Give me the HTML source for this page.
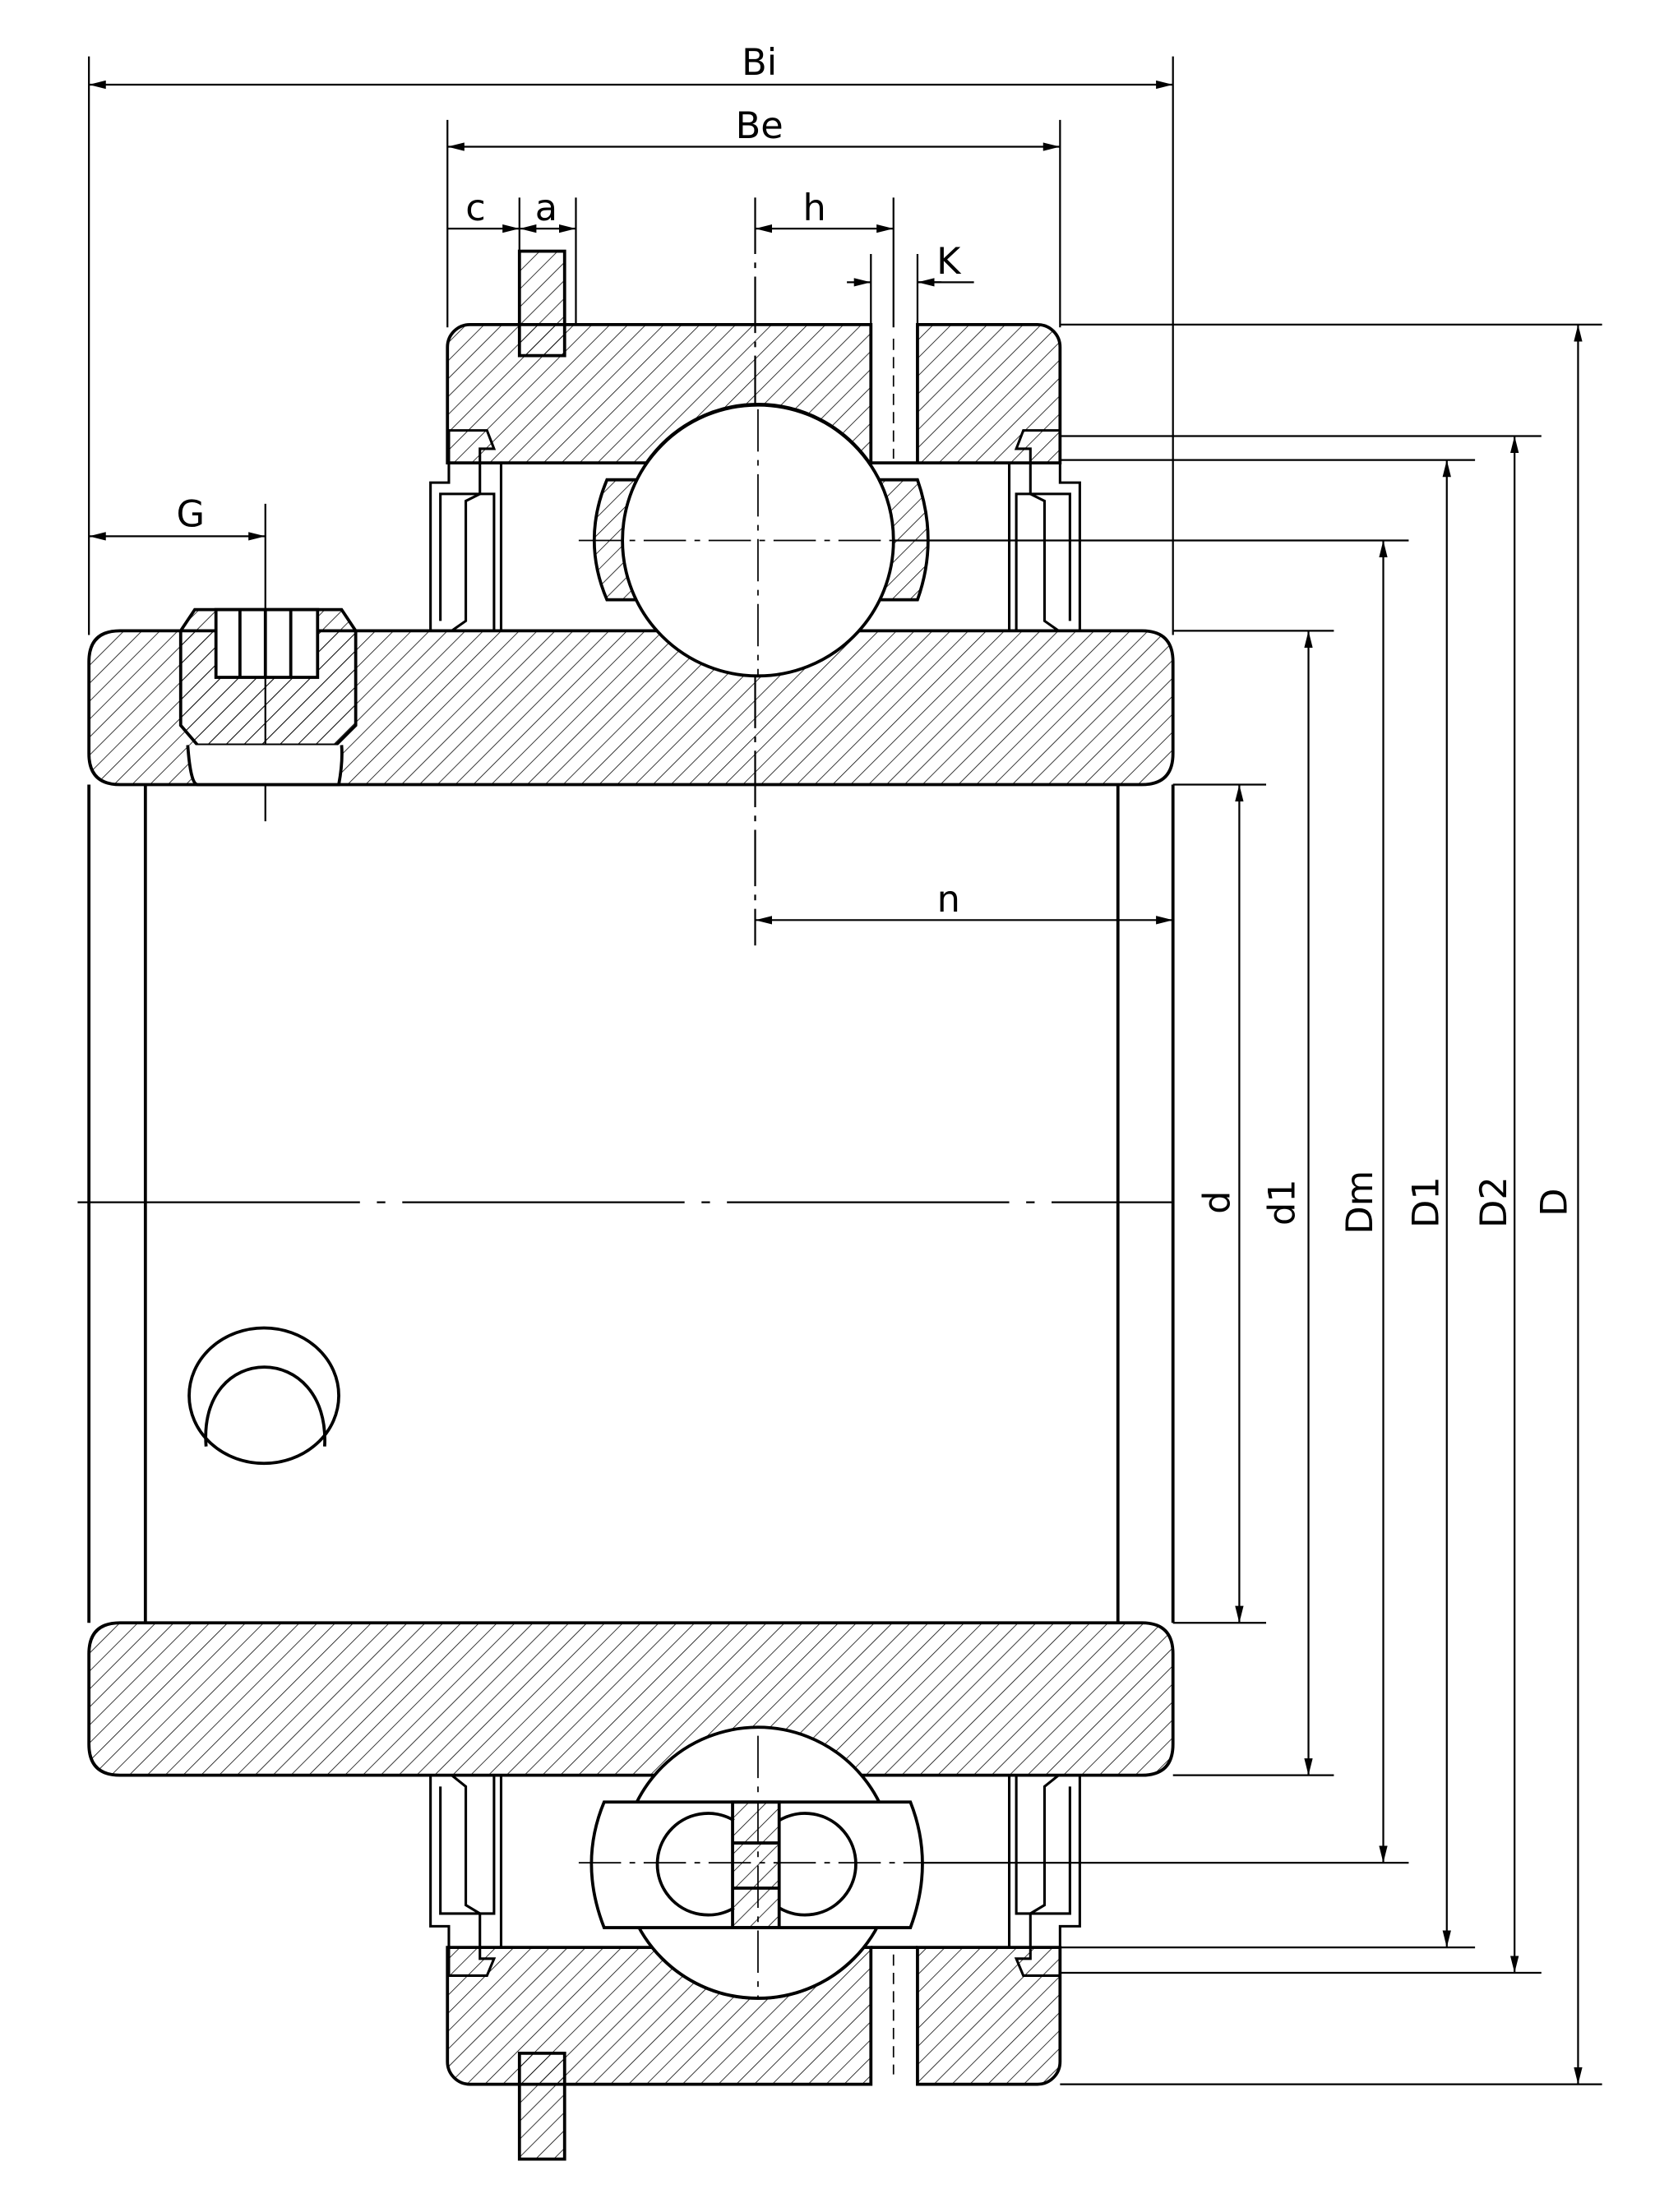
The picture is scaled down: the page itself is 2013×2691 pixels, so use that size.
<!DOCTYPE html>
<html><head><meta charset="utf-8"><style>
html,body{margin:0;padding:0;background:#fff}
svg{display:block}
text{font-family:"DejaVu Sans","Liberation Sans",sans-serif;font-size:26px;fill:#000}
</style></head><body>
<svg width="2013" height="2691" viewBox="0 0 1172.5 1567.5" preserveAspectRatio="none" xmlns="http://www.w3.org/2000/svg">
<defs>
<pattern id="h" width="9" height="9" patternUnits="userSpaceOnUse" patternTransform="rotate(45)">
<line x1="0" y1="0" x2="0" y2="9" stroke="#000" stroke-width="0.9"/></pattern>
<marker id="a" viewBox="0 0 12 6" refX="12" refY="3" markerWidth="12" markerHeight="6" orient="auto-start-reverse" markerUnits="userSpaceOnUse"><path d="M0,0 L12,3 L0,6z" fill="#000"/></marker>
</defs>
<g fill="none" stroke="#000" stroke-width="1.3">
<line x1="63" y1="60" x2="831" y2="60" marker-start="url(#a)" marker-end="url(#a)"/>
<line x1="63" y1="40" x2="63" y2="450"/><line x1="831" y1="40" x2="831" y2="450"/>
<line x1="317" y1="104" x2="751" y2="104" marker-start="url(#a)" marker-end="url(#a)"/>
<line x1="317" y1="85" x2="317" y2="232"/><line x1="751" y1="85" x2="751" y2="232"/>
<line x1="317" y1="162" x2="368" y2="162" marker-end="url(#a)"/>
<line x1="368" y1="162" x2="408" y2="162" marker-start="url(#a)" marker-end="url(#a)"/>
<line x1="368" y1="140" x2="368" y2="178"/><line x1="408" y1="140" x2="408" y2="230"/>
<line x1="535" y1="162" x2="633" y2="162" marker-start="url(#a)" marker-end="url(#a)"/>
<line x1="535" y1="140" x2="535" y2="670" stroke-dasharray="40,6,4,6"/>
<line x1="633" y1="140" x2="633" y2="232"/><line x1="617" y1="180" x2="617" y2="232"/><line x1="650" y1="180" x2="650" y2="232"/>
<line x1="600" y1="200" x2="617" y2="200" marker-end="url(#a)"/>
<line x1="667" y1="200" x2="650" y2="200" marker-end="url(#a)"/><line x1="650" y1="200" x2="690" y2="200"/>
<line x1="63" y1="380" x2="188" y2="380" marker-start="url(#a)" marker-end="url(#a)"/>
<line x1="188" y1="357" x2="188" y2="582"/>
<line x1="535" y1="652" x2="831" y2="652" marker-start="url(#a)" marker-end="url(#a)"/>
<line x1="751" y1="230" x2="1135" y2="230"/><line x1="751" y1="1477" x2="1135" y2="1477"/>
<line x1="751" y1="309" x2="1092" y2="309"/><line x1="751" y1="1398" x2="1092" y2="1398"/>
<line x1="751" y1="326" x2="1045" y2="326"/><line x1="751" y1="1380" x2="1045" y2="1380"/>
<line x1="537" y1="383" x2="998" y2="383"/><line x1="537" y1="1320" x2="998" y2="1320"/>
<line x1="831" y1="447" x2="945" y2="447"/><line x1="831" y1="1258" x2="945" y2="1258"/>
<line x1="831" y1="556" x2="897" y2="556"/><line x1="831" y1="1150" x2="897" y2="1150"/>
<line x1="878" y1="556" x2="878" y2="1150" marker-start="url(#a)" marker-end="url(#a)"/>
<line x1="927" y1="447" x2="927" y2="1258" marker-start="url(#a)" marker-end="url(#a)"/>
<line x1="980" y1="383" x2="980" y2="1320" marker-start="url(#a)" marker-end="url(#a)"/>
<line x1="1025" y1="326" x2="1025" y2="1380" marker-start="url(#a)" marker-end="url(#a)"/>
<line x1="1073" y1="309" x2="1073" y2="1398" marker-start="url(#a)" marker-end="url(#a)"/>
<line x1="1118" y1="230" x2="1118" y2="1477" marker-start="url(#a)" marker-end="url(#a)"/>
<line x1="55" y1="852" x2="830" y2="852" stroke-dasharray="200,12,6,12"/>
</g>
<g stroke="#000" stroke-width="2.2">
<path d="M333,230 H617 V328 H616 A96,96 0 0 0 458,328 H317 V246 A16,16 0 0 1 333,230Z" fill="url(#h)"/>
<path d="M650,230 H735 A16,16 0 0 1 751,246 V328 H650Z" fill="url(#h)"/>
<line x1="617" y1="328" x2="650" y2="328"/>
<line x1="633" y1="240" x2="633" y2="325" stroke-width="1" stroke-dasharray="8,5"/>
<path d="M317,1380 H462 A96,96 0 0 0 612,1380 H617 V1477 H333 A16,16 0 0 1 317,1461Z" fill="url(#h)"/>
<path d="M650,1380 H751 V1461 A16,16 0 0 1 735,1477 H650Z" fill="url(#h)"/>
<line x1="617" y1="1380" x2="650" y2="1380"/>
<line x1="633" y1="1385" x2="633" y2="1470" stroke-width="1" stroke-dasharray="8,5"/>
<rect x="368" y="178" width="32" height="74" fill="url(#h)"/>
<rect x="368" y="1455" width="32" height="75" fill="url(#h)"/>
<path d="M85,447 H467 A96,96 0 0 0 607,447 H809 Q831,447 831,469 V534 Q831,556 809,556 H85 Q63,556 63,534 V469 Q63,447 85,447Z" fill="url(#h)"/>
<path d="M85,1150 H809 Q831,1150 831,1172 V1236 Q831,1258 809,1258 H610 A96,96 0 0 0 464,1258 H85 Q63,1258 63,1236 V1172 Q63,1150 85,1150Z" fill="url(#h)"/>
<path d="M128,447 L138,432 H242 L252,447 V514 L238,528 H140 L128,514Z" fill="url(#h)"/>
<rect x="153" y="432" width="72" height="48" fill="#fff"/>
<line x1="170" y1="432" x2="170" y2="480"/><line x1="188" y1="432" x2="188" y2="480"/><line x1="206" y1="432" x2="206" y2="480"/>
<path d="M133,528 Q135,556 140,556 H240 Q243,540 242,528" fill="#fff"/>
<g fill="none"><line x1="63" y1="556" x2="63" y2="1150"/><line x1="831" y1="556" x2="831" y2="1150"/>
<line x1="103" y1="556" x2="103" y2="1150"/><line x1="792" y1="556" x2="792" y2="1150"/>
<ellipse cx="187" cy="989" rx="53" ry="48"/>
<path d="M146,1025 C140,950 234,950 230,1025"/></g>
<path d="M430,340 H650 Q665,383 650,425 H430 Q412,383 430,340Z" fill="url(#h)"/>
<circle cx="537" cy="383" r="96" fill="#fff"/>
<circle cx="537" cy="1320" r="96" fill="#fff"/>
<path d="M428,1277 H645 Q662,1320 645,1366 H428 Q410,1320 428,1277Z" fill="#fff"/>
<path d="M520,1290 A36,36 0 1 0 520,1352" fill="none"/><path d="M552,1290 A36,36 0 1 1 552,1352" fill="none"/>
<rect x="519" y="1277" width="33" height="89" fill="url(#h)"/>
<line x1="519" y1="1306" x2="552" y2="1306"/><line x1="519" y1="1338" x2="552" y2="1338"/>
<g fill="none" stroke-width="1.8">
<path d="M355,328 V447 M715,328 V447"/>
<path d="M305,447 V342 H318 V305 H345 L350,318 H340 V350 L330,355 V440 L320,447"/>
<path d="M312,440 V350 H350 V447"/>
<path d="M765,447 V342 H751 V305 H725 L720,318 H730 V350 L740,355 V440 L750,447"/>
<path d="M758,440 V350 H720 V447"/>
<path d="M305,1258 V1365 H318 V1400 H345 L350,1388 H340 V1356 L330,1350 V1266 L320,1258"/>
<path d="M312,1266 V1356 H350 V1258"/>
<path d="M355,1258 V1380 M715,1258 V1380"/>
<path d="M765,1258 V1365 H751 V1400 H725 L720,1388 H730 V1356 L740,1350 V1266 L750,1258"/>
<path d="M758,1266 V1356 H720 V1258"/>
</g>
</g>
<g fill="none" stroke="#000" stroke-width="1" stroke-dasharray="30,6,4,6">
<line x1="410" y1="383" x2="670" y2="383"/><line x1="537" y1="290" x2="537" y2="480"/>
<line x1="410" y1="1320" x2="670" y2="1320"/><line x1="537" y1="1230" x2="537" y2="1415"/>
</g>
<text x="538" y="53" text-anchor="middle">Bi</text>
<text x="538" y="98" text-anchor="middle">Be</text>
<text x="337" y="156" text-anchor="middle">c</text>
<text x="387" y="156" text-anchor="middle">a</text>
<text x="577" y="156" text-anchor="middle">h</text>
<text x="672" y="194" text-anchor="middle">K</text>
<text x="135" y="373" text-anchor="middle">G</text>
<text x="672" y="646" text-anchor="middle">n</text>
<g text-anchor="middle">
<text transform="translate(871,852) rotate(-90)">d</text>
<text transform="translate(917,852) rotate(-90)">d1</text>
<text transform="translate(972,852) rotate(-90)">Dm</text>
<text transform="translate(1019,852) rotate(-90)">D1</text>
<text transform="translate(1067,852) rotate(-90)">D2</text>
<text transform="translate(1110,852) rotate(-90)">D</text>
</g>
</svg>
</body></html>
